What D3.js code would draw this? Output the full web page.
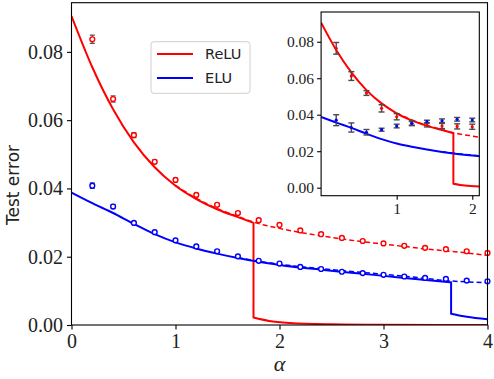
<!DOCTYPE html>
<html><head><meta charset="utf-8">
<script src="https://cdn.jsdelivr.net/npm/d3@7/dist/d3.min.js"></script>
<style>body{margin:0;background:#fff}svg{display:block}</style>
</head><body>
<script>
// ---------- data ----------
const alphaMain = [0.2,0.4,0.6,0.8,1.0,1.2,1.4,1.6,1.8,2.0,2.2,2.4,2.6,2.8,3.0,3.2,3.4,3.6,3.8,4.0];
const reluMain    = [0.0837,0.0662,0.0556,0.0478,0.0425,0.0381,0.0352,0.0328,0.0307,0.0293,0.0277,0.0266,0.0255,0.0246,0.0239,0.0232,0.0226,0.0222,0.0216,0.0211];
const reluMainErr = [0.0012,0.0009,0.0007,0.0005,0.0005,0.0004,0.0004,0.0004,0.0004,0.0004,0.0004,0.0004,0.0004,0.0004,0.0004,0.0004,0.0004,0.0004,0.0004,0.0004];
const eluMain     = [0.0408,0.0347,0.0299,0.0272,0.0248,0.0230,0.0216,0.0201,0.0188,0.0180,0.0170,0.0164,0.0156,0.0152,0.0147,0.0142,0.0138,0.0135,0.0130,0.0128];
const eluMainErr  = [0.0008,0.0006,0.0004,0.0004,0.0004,0.0003,0.0003,0.0003,0.0003,0.0003,0.0003,0.0003,0.0003,0.0003,0.0003,0.0003,0.0003,0.0003,0.0003,0.0003];

const alphaInset = [0.2,0.4,0.6,0.8,1.0,1.2,1.4,1.6,1.8,2.0];
const reluInset    = [0.0764,0.0612,0.0519,0.0435,0.0389,0.0353,0.0344,0.0338,0.0336,0.0334];
const reluInsetErr = [0.0032,0.0024,0.0013,0.0020,0.0017,0.0013,0.0011,0.0014,0.0014,0.0014];
const eluInset     = [0.0370,0.0330,0.0304,0.0318,0.0338,0.0353,0.0362,0.0367,0.0375,0.0371];
const eluInsetErr  = [0.0030,0.0025,0.0015,0.0008,0.0010,0.0010,0.0008,0.0010,0.0010,0.0010];

// theory curves
const reluSolidX = [0,0.2,0.4,0.6,0.8,1.0,1.2,1.4,1.6,1.75];
const reluSolidY = [0.0905,0.0755,0.0632,0.0535,0.0462,0.0408,0.0369,0.0339,0.0316,0.0299];
const reluLowX   = [1.75,1.9,2.1,2.5,3.0,4.0];
const reluLowY   = [0.0022,0.0012,0.0006,0.0002,0.00005,0.0];
const reluDashX  = [1.0,1.2,1.4,1.6,1.8,2.0,2.2,2.4,2.6,2.8,3.0,3.2,3.4,3.6,3.8,4.0];
const reluDashY  = [0.0409,0.0371,0.0341,0.0318,0.0297,0.0283,0.0271,0.0261,0.0252,0.0244,0.0237,0.0230,0.0223,0.0217,0.0211,0.0204];
const eluSolidX  = [0,0.2,0.4,0.6,0.8,1.0,1.2,1.4,1.6,1.8,2.0,2.4,2.8,3.2,3.65];
const eluSolidY  = [0.0388,0.0357,0.0328,0.0296,0.0266,0.0242,0.0224,0.0209,0.0196,0.0185,0.0176,0.0162,0.0150,0.0138,0.0125];
const eluLowX    = [3.65,3.8,4.0];
const eluLowY    = [0.0033,0.0024,0.0017];
const eluDashX   = [1.6,2.0,2.4,2.8,3.2,3.65,4.0];
const eluDashY   = [0.0197,0.0178,0.0165,0.0154,0.0143,0.0129,0.0124];

const mainXTicks = [0,1,2,3,4];
const mainYTicks = [0,0.02,0.04,0.06,0.08];
const insetXTicks = [1,2];
const insetYTicks = [0,0.02,0.04,0.06,0.08];
const legendLabels = ["ReLU","ELU"];

// ---------- drawing ----------
const W = 494, H = 379;
const RED = "#ff0000", BLUE = "#0000ff", GRAY = "#4a4a4a";
const svg = d3.select("body").append("svg").attr("width", W).attr("height", H);

function drawPanel(g, x, y, id, opts) {
  const [x0,x1] = x.range(), [y1,y0] = y.range();
  g.append("clipPath").attr("id", id).append("rect")
    .attr("x", x0).attr("y", y0).attr("width", x1-x0).attr("height", y1-y0);
  const c = g.append("g").attr("clip-path", `url(#${id})`);
  const line = d3.line().x(d=>x(d[0])).y(d=>y(d[1])).curve(d3.curveMonotoneX);
  const seg = (xs, ys) => xs.map((v,i)=>[v, ys[i]]);
  const lw = opts.lw;
  // dashed
  c.append("path").attr("d", line(seg(reluDashX, reluDashY))).attr("fill","none")
    .attr("stroke", RED).attr("stroke-width", lw*0.75).attr("stroke-dasharray", "5,3");
  c.append("path").attr("d", line(seg(eluDashX, eluDashY))).attr("fill","none")
    .attr("stroke", BLUE).attr("stroke-width", lw*0.75).attr("stroke-dasharray", "5,3");
  // solid with jumps
  const solid = (xa, ya, xb, yb, col) => {
    const p1 = line(seg(xa, ya));
    const p2 = line(seg(xb, yb));
    const path = p1 + "L" + x(xb[0]) + "," + y(yb[0]) + p2.replace(/^M[^LC]*/, "");
    c.append("path").attr("d", path).attr("fill","none").attr("stroke", col)
      .attr("stroke-width", lw).attr("stroke-linejoin","round");
  };
  solid(reluSolidX, reluSolidY, reluLowX, reluLowY, RED);
  solid(eluSolidX, eluSolidY, eluLowX, eluLowY, BLUE);
  return c;
}

function errPoints(g, x, y, xs, ys, es, col, opts) {
  const pts = g.append("g");
  xs.forEach((a,i) => {
    const cx = x(a), ylo = y(ys[i]-es[i]), yhi = y(ys[i]+es[i]);
    pts.append("line").attr("x1",cx).attr("x2",cx).attr("y1",ylo).attr("y2",yhi)
      .attr("stroke",GRAY).attr("stroke-width",opts.ew);
    [ylo,yhi].forEach(yy => pts.append("line").attr("x1",cx-opts.cap).attr("x2",cx+opts.cap)
      .attr("y1",yy).attr("y2",yy).attr("stroke",GRAY).attr("stroke-width",opts.ew));
  });
  xs.forEach((a,i) => {
    if (opts.filled) {
      pts.append("circle").attr("cx",x(a)).attr("cy",y(ys[i])).attr("r",opts.r).attr("fill",col);
    } else {
      pts.append("circle").attr("cx",x(a)).attr("cy",y(ys[i])).attr("r",opts.r)
        .attr("fill","#fff").attr("stroke",col).attr("stroke-width",1.4);
    }
  });
}

// main axes
const mx = d3.scaleLinear().domain([0,4]).range([71.5,487.5]);
const my = d3.scaleLinear().domain([0,0.0944]).range([325,2.7]);
const main = svg.append("g");
drawPanel(main, mx, my, "clipMain", {lw:2});
errPoints(main, mx, my, alphaMain, reluMain, reluMainErr, RED, {r:2.4, cap:2.5, ew:1.2});
errPoints(main, mx, my, alphaMain, eluMain, eluMainErr, BLUE, {r:2.4, cap:2.5, ew:1.2});

main.append("rect").attr("x",71.5).attr("y",2.7).attr("width",416).attr("height",322.3)
  .attr("fill","none").attr("stroke","#000").attr("stroke-width",1.1);

const xAx = main.append("g").attr("transform","translate(0,325)")
  .call(d3.axisBottom(mx).tickValues(mainXTicks).tickFormat(d3.format("d")).tickSize(4.5).tickPadding(4));
const yAx = main.append("g").attr("transform","translate(71.5,0)")
  .call(d3.axisLeft(my).tickValues(mainYTicks).tickFormat(d3.format(".2f")).tickSize(4.5).tickPadding(4));
[xAx,yAx].forEach(a => {
  a.select(".domain").remove();
  a.selectAll("line").attr("stroke","#000").attr("stroke-width",1.1);
  a.selectAll("text").attr("font-family","'Liberation Serif', 'DejaVu Serif', serif")
    .attr("font-size",20).attr("fill","#222");
});

svg.append("text").attr("x",279.5).attr("y",371).attr("text-anchor","middle")
  .attr("font-family","'Liberation Serif', serif").attr("font-style","italic").attr("font-size",22)
  .attr("fill","#222").text("α");
svg.append("text").attr("transform","translate(19,185) rotate(-90)").attr("text-anchor","middle")
  .attr("font-family","'DejaVu Sans', sans-serif").attr("font-size",17).attr("fill","#222").text("Test error");

// legend
const lg = svg.append("g");
lg.append("rect").attr("x",151).attr("y",41.7).attr("width",99).attr("height",51.6).attr("rx",3)
  .attr("fill","#fff").attr("fill-opacity",0.85).attr("stroke","#d0d0d0").attr("stroke-width",1);
[[RED,54],[BLUE,78]].forEach(([col,yy],i) => {
  lg.append("line").attr("x1",157).attr("x2",193).attr("y1",yy).attr("y2",yy)
    .attr("stroke",col).attr("stroke-width",2);
  lg.append("text").attr("x",205).attr("y",yy+5.3).attr("font-family","'DejaVu Sans', sans-serif")
    .attr("font-size",14.5).attr("fill","#222").text(legendLabels[i]);
});

// inset
const ix = d3.scaleLinear().domain([0,2.093]).range([321.1,479.3]);
const iy = d3.scaleLinear().domain([-0.00438,0.0963]).range([195.7,12]);
const inset = svg.append("g");
inset.append("rect").attr("x",321.1).attr("y",12).attr("width",158.2).attr("height",183.7).attr("fill","#fff");
drawPanel(inset, ix, iy, "clipInset", {lw:2});
errPoints(inset, ix, iy, alphaInset, reluInset, reluInsetErr, RED, {r:1.6, cap:3, ew:1.4, filled:true});
errPoints(inset, ix, iy, alphaInset, eluInset, eluInsetErr, BLUE, {r:1.6, cap:3, ew:1.4, filled:true});
inset.append("rect").attr("x",321.1).attr("y",12).attr("width",158.2).attr("height",183.7)
  .attr("fill","none").attr("stroke","#000").attr("stroke-width",1.1);
const ixAx = inset.append("g").attr("transform","translate(0,195.7)")
  .call(d3.axisBottom(ix).tickValues(insetXTicks).tickFormat(d3.format("d")).tickSize(4).tickPadding(3));
const iyAx = inset.append("g").attr("transform","translate(321.1,0)")
  .call(d3.axisLeft(iy).tickValues(insetYTicks).tickFormat(d3.format(".2f")).tickSize(4).tickPadding(3));
[ixAx,iyAx].forEach(a => {
  a.select(".domain").remove();
  a.selectAll("line").attr("stroke","#000").attr("stroke-width",1.1);
  a.selectAll("text").attr("font-family","'Liberation Serif', 'DejaVu Serif', serif")
    .attr("font-size",15.5).attr("fill","#222");
});
</script>
</body></html>
